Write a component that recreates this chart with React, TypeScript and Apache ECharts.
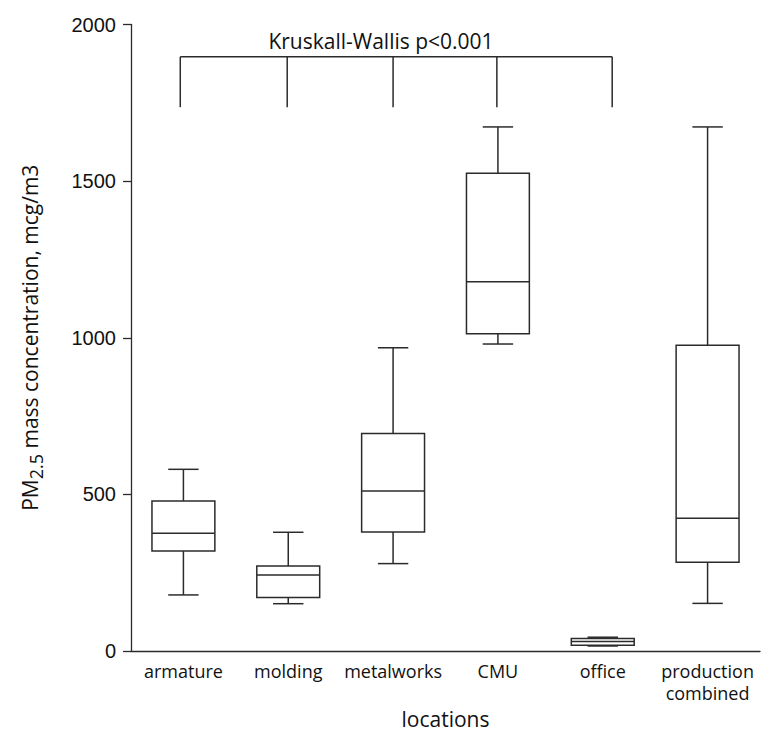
import React, { useEffect, useRef } from 'react';
import * as echarts from 'echarts';

const categories = ['armature', 'molding', 'metalworks', 'CMU', 'office', 'production\ncombined'];
const whiskerLow = [179, 151, 279, 980, 16, 152];
const q1 = [319, 171, 380, 1013, 18, 283];
const median = [376, 243, 511, 1179, 30, 424];
const q3 = [479, 271, 694, 1525, 40, 976];
const whiskerHigh = [580, 379, 968, 1673, 44, 1673];

const bracketX = [-0.03, 0.99, 2.0, 2.99, 4.09];
const bracketTop = 1897;
const bracketBottom = 1736;
const annotation = 'Kruskall-Wallis p<0.001';

const LINE = '#2b2b2b';
const TEXT = '#111';

export default function App() {
  const ref = useRef<HTMLDivElement>(null);
  useEffect(() => {
    document.body.style.margin = '0';
    const chart = echarts.init(ref.current!, null, { renderer: 'svg' });
    const boxData = categories.map((_, i) => [i, whiskerLow[i], q1[i], median[i], q3[i], whiskerHigh[i]]);
    const bracketData = bracketX.map((x) => [x, bracketBottom, bracketTop]);
    chart.setOption({
      animation: false,
      backgroundColor: '#fff',
      grid: { left: 131, right: 7, top: 24.5, bottom: 91 },
      xAxis: [
        {
          type: 'category',
          data: categories,
          boundaryGap: true,
          axisLine: { onZero: false, lineStyle: { color: LINE, width: 1.3 } },
          axisTick: { alignWithLabel: true, length: 6, lineStyle: { color: LINE, width: 1.3 } },
          axisLabel: { interval: 0, fontFamily: 'Open Sans', fontSize: 18, color: TEXT, margin: 9, lineHeight: 22 },
          name: 'locations',
          nameLocation: 'middle',
          nameGap: 43,
          nameTextStyle: { fontFamily: 'Open Sans', fontSize: 21, color: TEXT },
        },
        { type: 'value', min: -0.5, max: 5.5, show: false },
      ],
      yAxis: {
        type: 'value',
        min: 0,
        max: 2000,
        interval: 500,
        axisLine: { show: true, onZero: false, lineStyle: { color: LINE, width: 1.3 } },
        axisTick: { show: true, length: 8, lineStyle: { color: LINE, width: 1.3 } },
        splitLine: { show: false },
        axisLabel: {
          fontFamily: 'Liberation Sans',
          fontSize: 20,
          color: TEXT,
          margin: 15,
          formatter: (v: number) => String(v),
        },
        name: '{a|PM}{b|2.5}{a| mass concentration, mcg/m3}',
        nameLocation: 'middle',
        nameRotate: 90,
        nameGap: 86,
        nameTextStyle: {
          rich: {
            a: { fontFamily: 'Open Sans', fontSize: 21, color: TEXT },
            b: { fontFamily: 'Open Sans', fontSize: 18, color: TEXT, padding: [12, 0, 0, 0] },
          },
        },
      },
      graphic: [
        {
          type: 'text',
          x: 381,
          y: 41,
          style: {
            text: annotation,
            fontFamily: 'Open Sans',
            fontSize: 21,
            fill: TEXT,
            textAlign: 'center',
            textVerticalAlign: 'middle',
          },
        },
      ],
      series: [
        {
          type: 'custom',
          xAxisIndex: 0,
          yAxisIndex: 0,
          data: boxData,
          encode: { x: 0, y: [1, 2, 3, 4, 5] },
          renderItem: (params: any, api: any) => {
            const i = api.value(0);
            const band = api.size([1, 0])[0];
            const bw = band * 0.6;
            const cw = band * 0.29;
            const pLow = api.coord([i, api.value(1)]);
            const pQ1 = api.coord([i, api.value(2)]);
            const pMed = api.coord([i, api.value(3)]);
            const pQ3 = api.coord([i, api.value(4)]);
            const pHigh = api.coord([i, api.value(5)]);
            const x = pLow[0];
            const ls = { stroke: LINE, lineWidth: 1.5 };
            return {
              type: 'group',
              children: [
                { type: 'line', shape: { x1: x, y1: pQ3[1], x2: x, y2: pHigh[1] }, style: ls },
                { type: 'line', shape: { x1: x - cw / 2, y1: pHigh[1], x2: x + cw / 2, y2: pHigh[1] }, style: ls },
                { type: 'line', shape: { x1: x, y1: pQ1[1], x2: x, y2: pLow[1] }, style: ls },
                { type: 'line', shape: { x1: x - cw / 2, y1: pLow[1], x2: x + cw / 2, y2: pLow[1] }, style: ls },
                {
                  type: 'rect',
                  shape: { x: x - bw / 2, y: pQ3[1], width: bw, height: pQ1[1] - pQ3[1] },
                  style: { fill: '#fff', stroke: LINE, lineWidth: 1.5 },
                },
                { type: 'line', shape: { x1: x - bw / 2, y1: pMed[1], x2: x + bw / 2, y2: pMed[1] }, style: ls },
              ],
            };
          },
        },
        {
          type: 'custom',
          xAxisIndex: 1,
          yAxisIndex: 0,
          data: bracketData,
          encode: { x: 0, y: [1, 2] },
          renderItem: (params: any, api: any) => {
            const pB = api.coord([api.value(0), api.value(1)]);
            const pT = api.coord([api.value(0), api.value(2)]);
            const ls = { stroke: LINE, lineWidth: 1.5 };
            const children: any[] = [
              { type: 'line', shape: { x1: pB[0], y1: pB[1], x2: pT[0], y2: pT[1] }, style: ls },
            ];
            if (params.dataIndex === 0) {
              const pEnd = api.coord([bracketX[bracketX.length - 1], bracketTop]);
              children.push({ type: 'line', shape: { x1: pT[0], y1: pT[1], x2: pEnd[0], y2: pEnd[1] }, style: ls });
            }
            return { type: 'group', children };
          },
        },
      ],
    });
    return () => chart.dispose();
  }, []);
  return <div ref={ref} style={{ width: 767, height: 742 }} />;
}
